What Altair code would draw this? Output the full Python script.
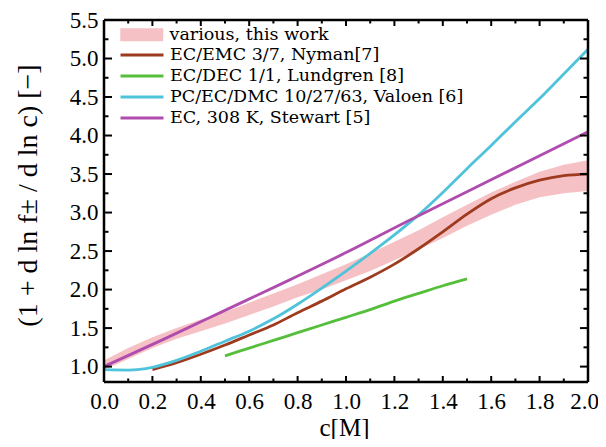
import altair as alt
import pandas as pd

# ---------------- data ----------------
x_grid = [0.0, 0.1, 0.2, 0.3, 0.4, 0.5, 0.6, 0.7, 0.8, 0.9, 1.0,
          1.1, 1.2, 1.3, 1.4, 1.5, 1.6, 1.7, 1.8, 1.9, 2.0]

band_label = "various, this work"
band_lo = [0.96, 1.10, 1.24, 1.36, 1.46, 1.56, 1.67, 1.78, 1.90, 2.00, 2.12,
           2.24, 2.38, 2.52, 2.67, 2.83, 2.97, 3.10, 3.20, 3.25, 3.28]
band_hi = [1.08, 1.24, 1.38, 1.50, 1.61, 1.71, 1.83, 1.95, 2.07, 2.20, 2.33,
           2.47, 2.62, 2.77, 2.94, 3.10, 3.26, 3.40, 3.53, 3.62, 3.68]

nyman_label = "EC/EMC 3/7, Nyman[7]"
nyman_x = [0.2, 0.3, 0.4, 0.5, 0.6, 0.7, 0.8, 0.9, 1.0, 1.1,
           1.2, 1.3, 1.4, 1.5, 1.6, 1.7, 1.8, 1.9, 2.0]
nyman_y = [0.96, 1.05, 1.16, 1.28, 1.41, 1.54, 1.70, 1.85, 2.01, 2.16,
           2.33, 2.53, 2.75, 2.98, 3.18, 3.32, 3.42, 3.48, 3.50]

lundgren_label = "EC/DEC 1/1, Lundgren [8]"
lundgren_x = [0.5, 0.6, 0.7, 0.8, 0.9, 1.0, 1.1, 1.2, 1.3, 1.4, 1.5]
lundgren_y = [1.14, 1.24, 1.34, 1.44, 1.54, 1.64, 1.74, 1.85, 1.95, 2.05, 2.14]

valoen_label = "PC/EC/DMC 10/27/63, Valoen [6]"
valoen_x = x_grid
valoen_y = [0.96, 0.955, 0.99, 1.08, 1.20, 1.33, 1.46, 1.62, 1.81, 2.02, 2.24,
            2.47, 2.71, 2.97, 3.26, 3.57, 3.87, 4.18, 4.48, 4.80, 5.12]

stewart_label = "EC, 308 K, Stewart [5]"
stewart_x = [0.0, 0.25, 0.5, 0.75, 1.0, 1.25, 1.5, 1.75, 2.0]
stewart_y = [1.00, 1.36, 1.73, 2.10, 2.48, 2.88, 3.27, 3.66, 4.05]

line_labels = [nyman_label, lundgren_label, valoen_label, stewart_label]
line_colors = ["#9e3b1f", "#55bf3b", "#4fc3da", "#b04cae"]
band_color = "#f6c1c4"

x_major = [0.0, 0.2, 0.4, 0.6, 0.8, 1.0, 1.2, 1.4, 1.6, 1.8, 2.0]
x_minor = [0.1, 0.3, 0.5, 0.7, 0.9, 1.1, 1.3, 1.5, 1.7, 1.9]
y_major = [1.0, 1.5, 2.0, 2.5, 3.0, 3.5, 4.0, 4.5, 5.0, 5.5]
y_minor = [1.25, 1.75, 2.25, 2.75, 3.25, 3.75, 4.25, 4.75, 5.25]

W, H = 484, 362

# ---------------- tables ----------------
band_df = pd.DataFrame({"c": x_grid, "lo": band_lo, "hi": band_hi,
                        "label": [band_label] * len(x_grid)})

rows = []
for lab, xs_, ys_ in [(nyman_label, nyman_x, nyman_y),
                      (lundgren_label, lundgren_x, lundgren_y),
                      (valoen_label, valoen_x, valoen_y),
                      (stewart_label, stewart_x, stewart_y)]:
    for xv, yv in zip(xs_, ys_):
        rows.append({"c": xv, "v": yv, "series": lab})
lines_df = pd.DataFrame(rows)

FONT = "Liberation Serif"
LFONT = "DejaVu Serif"
xs = alt.Scale(domain=[0, 2], nice=False, zero=False)
ys = alt.Scale(domain=[0.8, 5.5], nice=False, zero=False)

x_main = alt.Axis(orient="bottom", values=x_major, format=".1f", ticks=False,
                  domain=False, grid=False, labelFont=FONT, labelFontSize=23,
                  labelColor="black", labelPadding=8, labelFlush=False,
                  labelOverlap=False,
                  labelOffset={"condition": {"test": "datum.value >= 2", "value": -4},
                               "value": 0},
                  title="c[M]", titleFont=FONT,
                  titleFontSize=25, titleFontWeight="normal", titleColor="black",
                  titleX=240, titleY=45, titleBaseline="middle")
y_main = alt.Axis(orient="left", values=y_major, format=".1f", ticks=False,
                  domain=False, grid=False, labelFont=FONT, labelFontSize=23,
                  labelColor="black", labelPadding=6, labelFlush=False,
                  labelOverlap=False,
                  title="(1 + d ln f\u00b1 / d ln c) [\u2212]", titleFont=FONT,
                  titleFontSize=28, titleFontWeight="normal", titleColor="black",
                  titleX=-76, titleY=175, titleAngle=-90, titleAlign="center",
                  titleBaseline="middle")

legend_band = alt.Legend(title=None, orient="none", legendX=29, legendY=6,
                         symbolType="M-3,-0.9H3V0.9H-3Z", symbolSize=205,
                         symbolStrokeWidth=0, symbolOpacity=1,
                         labelFont=LFONT, labelFontSize=17.5, labelColor="black",
                         labelOffset=19, padding=0, labelLimit=400)
legend_lines = alt.Legend(title=None, orient="none", legendX=29, legendY=26,
                          symbolType="M-3,0H3", symbolSize=205,
                          symbolStrokeWidth=3, labelFont=LFONT, labelFontSize=17.5,
                          labelColor="black", labelOffset=19, rowPadding=3,
                          padding=0, labelLimit=400)

band = alt.Chart(band_df).mark_area(opacity=1).encode(
    x=alt.X("c:Q", scale=xs, axis=x_main),
    y=alt.Y("lo:Q", scale=ys, axis=y_main),
    y2="hi:Q",
    fill=alt.Fill("label:N", scale=alt.Scale(domain=[band_label], range=[band_color]),
                  legend=legend_band),
)

lines = alt.Chart(lines_df).mark_line(strokeWidth=2.8, interpolate="monotone").encode(
    x=alt.X("c:Q", scale=xs, axis=x_main),
    y=alt.Y("v:Q", scale=ys, axis=y_main),
    stroke=alt.Stroke("series:N", scale=alt.Scale(domain=line_labels, range=line_colors),
                      legend=legend_lines),
)

# ---- inward tick marks (positions from the tick-value lists through the scales) ----
xmaj_df = pd.DataFrame({"t": x_major})
xmin_df = pd.DataFrame({"t": x_minor})
ymaj_df = pd.DataFrame({"t": y_major})
ymin_df = pd.DataFrame({"t": y_minor})


def xticks(df, length):
    bottom = alt.Chart(df).mark_rule(color="black", strokeWidth=2).encode(
        x=alt.X("t:Q", scale=xs, axis=x_main),
        y=alt.value(H), y2=alt.value(H - length))
    top = alt.Chart(df).mark_rule(color="black", strokeWidth=2).encode(
        x=alt.X("t:Q", scale=xs, axis=x_main),
        y=alt.value(0), y2=alt.value(length))
    return [bottom, top]


def yticks(df, length):
    left = alt.Chart(df).mark_rule(color="black", strokeWidth=2).encode(
        y=alt.Y("t:Q", scale=ys, axis=y_main),
        x=alt.value(0), x2=alt.value(length))
    right = alt.Chart(df).mark_rule(color="black", strokeWidth=2).encode(
        y=alt.Y("t:Q", scale=ys, axis=y_main),
        x=alt.value(W), x2=alt.value(W - length))
    return [left, right]


ticks = (xticks(xmaj_df, 6) + xticks(xmin_df, 3.5)
         + yticks(ymaj_df, 8) + yticks(ymin_df, 4.5))

# ---- plot frame ----
frame_df = pd.DataFrame({"k": [0]})
frame = [
    alt.Chart(frame_df).mark_rule(color="black", strokeWidth=2.5).encode(
        x=alt.value(0), x2=alt.value(W), y=alt.value(0)),
    alt.Chart(frame_df).mark_rule(color="black", strokeWidth=2.5).encode(
        x=alt.value(0), x2=alt.value(W), y=alt.value(H)),
    alt.Chart(frame_df).mark_rule(color="black", strokeWidth=2.5).encode(
        y=alt.value(0), y2=alt.value(H), x=alt.value(0)),
    alt.Chart(frame_df).mark_rule(color="black", strokeWidth=2.5).encode(
        y=alt.value(0), y2=alt.value(H), x=alt.value(W)),
]

chart = alt.layer(band, lines, *ticks, *frame).properties(
    width=W, height=H,
    autosize=alt.AutoSizeParams(type="none"),
    padding={"left": 96, "top": 12, "right": 10, "bottom": 57},
).configure_view(strokeWidth=0).configure(background="white")

chart.save("out.html", embed_options={"renderer": "svg", "actions": False})
